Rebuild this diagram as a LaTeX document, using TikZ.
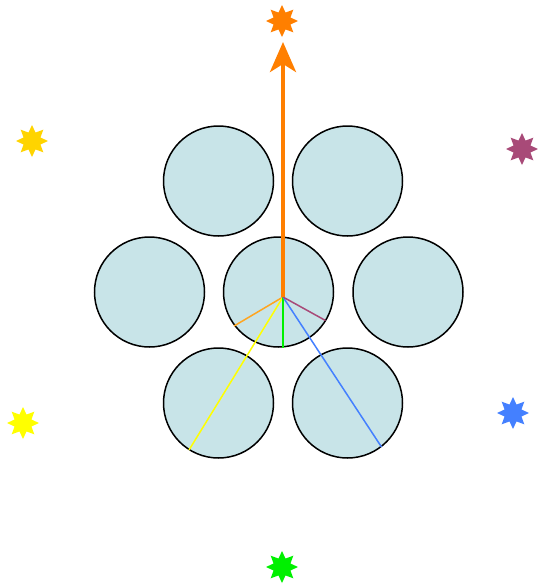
\documentclass[tikz,border=0pt]{standalone}
\usetikzlibrary{shapes.geometric,arrows.meta}
\definecolor{cfill}{HTML}{C8E4E8}
\definecolor{corange}{HTML}{FF7F00}
\definecolor{cray}{HTML}{FFA520}
\definecolor{cgold}{HTML}{FFD400}
\definecolor{cpurple}{HTML}{A84A78}
\definecolor{cyellow}{HTML}{FFFF00}
\definecolor{cblue}{HTML}{4480FF}
\definecolor{cgreen}{HTML}{00F000}
\begin{document}
\begin{tikzpicture}[x=1pt,y=-1pt,
  ball/.style={circle,draw=black,line width=1.5pt,fill=cfill,minimum size=110pt,inner sep=0pt},
  starmark/.style={star,star points=8,star point ratio=1.75,minimum size=32pt,inner sep=0pt,fill=#1,draw=none},
  ray/.style={line width=1.5pt,draw=#1}]
\useasboundingbox (0,0) rectangle (538,584);
% circles
\node[ball] (tl) at (218.5,181) {};
\node[ball] (tr) at (347.5,181) {};
\node[ball] (l) at (149.5,292) {};
\node[ball] (c) at (278.5,292) {};
\node[ball] (r) at (408,292) {};
\node[ball] (bl) at (218.5,403) {};
\node[ball] (br) at (347.5,403) {};
% stars
\node[starmark=corange] (so) at (282,21) {};
\node[starmark=cgold] (sg) at (32,141) {};
\node[starmark=cpurple] (sp) at (522,149) {};
\node[starmark=cyellow] (sy) at (23,423) {};
\node[starmark=cblue] (sb) at (513,413) {};
\node[starmark=cgreen] (sgr) at (282,567) {};
% rays
\coordinate (o) at (283,297);
\coordinate (eo) at (234,326);
\coordinate (ey) at (189,450);
\coordinate (eg) at (283,348);
\coordinate (eb) at (381.5,447);
\coordinate (ep) at (325.5,320.5);
\coordinate (at) at (283,42);
\draw[ray=cray] (o) -- (eo);
\draw[ray=cyellow] (o) -- (ey);
\draw[ray=cgreen] (o) -- (eg);
\draw[ray=cblue] (o) -- (eb);
\draw[ray=cpurple] (o) -- (ep);
\draw[corange,line width=4pt,-{Stealth[length=30pt,width=26pt,inset=8pt]}] (o) -- (at);
\end{tikzpicture}
\end{document}
